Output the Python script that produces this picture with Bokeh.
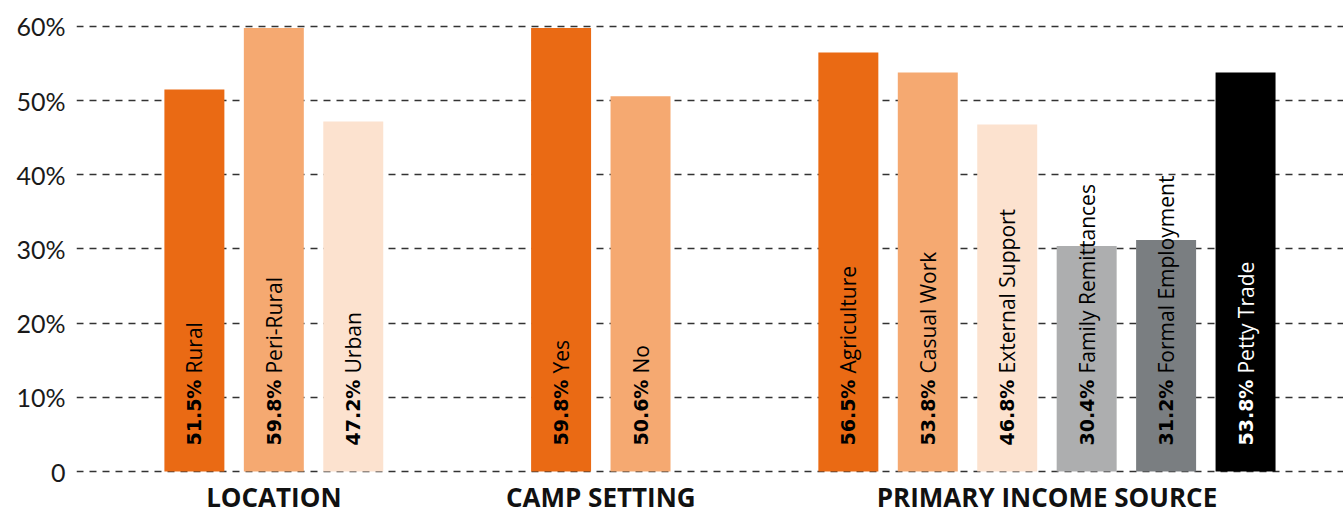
import math
from bokeh.plotting import figure
from bokeh.models import Range1d, FixedTicker, ColumnDataSource
from bokeh.embed import file_html
from bokeh.resources import INLINE
from bokeh.core.properties import value

# ---- data ----
groups = ["LOCATION", "CAMP SETTING", "PRIMARY INCOME SOURCE"]
categories = ["Rural", "Peri-Rural", "Urban",
              "Yes", "No",
              "Agriculture", "Casual Work", "External Support",
              "Family Remittances", "Formal Employment", "Petty Trade"]
group_index = [0, 0, 0, 1, 1, 2, 2, 2, 2, 2, 2]
values = [51.5, 59.8, 47.2, 59.8, 50.6, 56.5, 53.8, 46.8, 30.4, 31.2, 53.8]
y_ticks = [0, 10, 20, 30, 40, 50, 60]
y_tick_labels = ["0", "10%", "20%", "30%", "40%", "50%", "60%"]

# ---- styles ----
bar_colors = ["#EA6A14", "#F5A971", "#FCE2CF",
              "#EA6A14", "#F5A971",
              "#EA6A14", "#F5A971", "#FCE2CF", "#ADAEAF", "#7A7E81", "#000000"]
label_colors = ["#000000"] * 10 + ["#FFFFFF"]
GAP = 1.616

xs = [i + g * GAP for i, g in enumerate(group_index)]
group_centers = []
for g in range(len(groups)):
    members = [x for x, gi in zip(xs, group_index) if gi == g]
    group_centers.append((min(members) + max(members)) / 2)

src = ColumnDataSource(dict(
    x=xs, top=values, color=bar_colors, tcolor=label_colors,
    vlabel=[f"{v:.1f}%" for v in values], name=categories,
    zero=[0] * len(values),
))
gsrc = ColumnDataSource(dict(x=group_centers, text=groups, zero=[0] * len(groups)))

p = figure(width=1343, height=515, output_backend="svg", toolbar_location=None,
           x_range=Range1d(-1.484, 14.465), y_range=Range1d(-5.93, 60.94),
           min_border_left=76, min_border_right=0, min_border_top=19,
           min_border_bottom=0)
p.outline_line_color = None
p.background_fill_color = "white"
p.border_fill_color = "white"

p.vbar(x="x", top="top", bottom=0, width=0.755, color="color", source=src,
       line_color=None)

p.text(x="x", y="zero", text="vlabel", source=src, angle=math.pi / 2,
       text_align="left", text_baseline="middle", y_offset=-26,
       text_font=value("DejaVu Sans"), text_font_style="bold", text_font_size="19px",
       text_color="tcolor")
p.text(x="x", y="zero", text="name", source=src, angle=math.pi / 2,
       text_align="left", text_baseline="middle", y_offset=-98,
       text_font=value("Open Sans"), text_font_style="normal", text_font_size="21px",
       text_color="tcolor")

# group labels below the bars
p.text(x="x", y="zero", text="text", source=gsrc,
       text_align="center", text_baseline="bottom", y_offset=43,
       text_font=value("Open Sans"), text_font_style="bold", text_font_size="26px",
       text_color="#111111")

# y axis
p.yaxis.ticker = FixedTicker(ticks=y_ticks)
p.yaxis.major_label_overrides = {t: l for t, l in zip(y_ticks, y_tick_labels)}
p.yaxis.axis_line_color = None
p.yaxis.major_tick_line_color = None
p.yaxis.minor_tick_line_color = None
p.yaxis.major_tick_out = 0
p.yaxis.major_tick_in = 0
p.yaxis.major_label_standoff = 11
p.yaxis.major_label_text_font = "Lato"
p.yaxis.major_label_text_font_size = "25px"
p.yaxis.major_label_text_color = "#1a1a1a"

p.xaxis.visible = False

p.xgrid.grid_line_color = None
p.ygrid.ticker = FixedTicker(ticks=y_ticks)
p.ygrid.grid_line_color = "#333333"
p.ygrid.grid_line_width = 1.3
p.ygrid.grid_line_dash = "7 6"

open("out.html", "w").write(file_html(p, INLINE))
